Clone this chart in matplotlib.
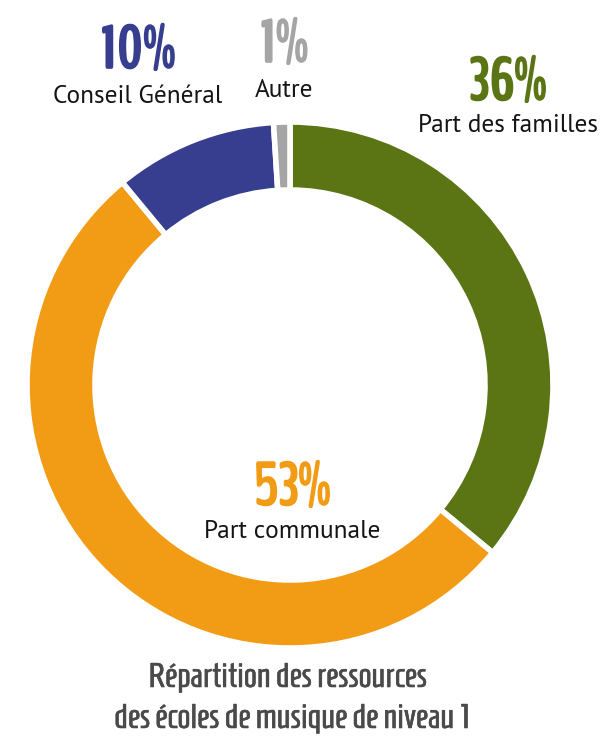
import matplotlib
matplotlib.use("Agg")
import matplotlib.pyplot as plt
import matplotlib.patheffects as pe

labels = ["Part des familles", "Part communale", "Conseil Général", "Autre"]
values = [36, 53, 10, 1]
pct_labels = ["36%", "53%", "10%", "1%"]
colors = ["#5b7514", "#f29b14", "#383e8f", "#a5a5a5"]
title_lines = ["Répartition des ressources", "des écoles de musique de niveau 1"]

W, H = 605, 740
fig = plt.figure(figsize=(W / 100, H / 100), dpi=100)
ax = fig.add_axes([0, 0, 1, 1])

cx, cy, R = 290, H - 385, 263
width = 68
ax.pie(values, colors=colors, startangle=90, counterclock=False,
       center=(cx, cy), radius=R, frame=True,
       wedgeprops=dict(width=width, edgecolor="white", linewidth=4))
ax.set_xlim(0, W)
ax.set_ylim(0, H)
ax.set_aspect("equal")
ax.axis("off")

renderer = fig.canvas.get_renderer()


def fit_size(text, target_w, **kw):
    t = ax.text(0, 0, text, fontsize=20, **kw)
    w = t.get_window_extent(renderer).width
    t.remove()
    return 20 * target_w / w


pct_font = dict(family=["BenchNine", "DejaVu Sans"], fontweight="bold")
lab_font = dict(family=["PT Sans", "DejaVu Sans"])
title_font = dict(family=["Homenaje", "DejaVu Sans"])

pct_size = fit_size("36%", 77, **pct_font)
lab_size = fit_size("Part des familles", 179, **lab_font)
title_size = 0.95 * fit_size(title_lines[1], 373, **title_font)

# (x centre, baseline of percentage, baseline of label), pixels from top
pos = {
    "Part des familles": (508, 100, 132),
    "Part communale": (292, 505, 538),
    "Conseil Général": (138, 68, 103),
    "Autre": (284, 62, 97),
}
for lab, pct, col in zip(labels, pct_labels, colors):
    x, yp, yl = pos[lab]
    ax.text(x, H - yp, pct, color=col, fontsize=pct_size,
            ha="center", va="baseline", **pct_font,
            path_effects=[pe.withStroke(linewidth=1.2, foreground=col)])
    ax.text(x, H - yl, lab, color="#141414", fontsize=lab_size,
            ha="center", va="baseline", **lab_font)

for line, yb, xc in zip(title_lines, [687, 728], [287, 291]):
    ax.text(xc, H - yb, line, color="#4a4a4a", fontsize=title_size,
            ha="center", va="baseline", **title_font,
            path_effects=[pe.withStroke(linewidth=0.4, foreground="#4a4a4a")])

fig.savefig("out.png", dpi=100)
